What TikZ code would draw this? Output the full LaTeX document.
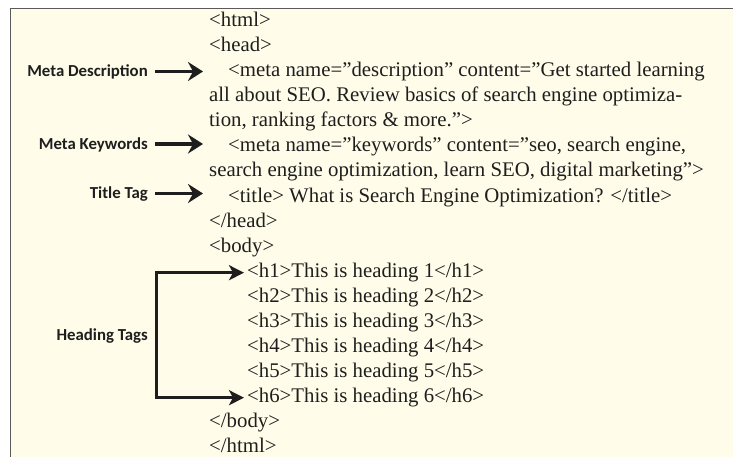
\documentclass[tikz,border=0pt]{standalone}
\usepackage{fontspec}
\setmainfont{Liberation Serif}
\newfontfamily\labelfont{Carlito}
\usetikzlibrary{arrows.meta}

\definecolor{paper}{HTML}{FFFDE9}
\definecolor{frame}{HTML}{5A5A5A}
\definecolor{ink}{HTML}{1E1E1E}

\begin{document}
\begin{tikzpicture}[x=1pt,y=-1pt,
  code/.style={anchor=base west, inner sep=0pt, text=ink,
    font=\fontsize{20.8}{24}\selectfont, text height=10pt, text depth=1.4pt},
  tag/.style={anchor=base east, inner sep=0pt, text=ink,
    font=\labelfont\bfseries\fontsize{16.8}{20}\selectfont, text height=11pt, text depth=0pt},
  ptr/.style={-{Stealth[length=15pt,width=19pt,inset=5pt]}, line width=3.3pt, draw=ink},
  ptrboth/.style={{Stealth[length=15pt,width=15pt,inset=4pt]}-{Stealth[length=15pt,width=15pt,inset=4pt]},
    line width=3.3pt, draw=ink}
]
\useasboundingbox (0,0) rectangle (733,457);

% page panel
\fill[paper] (10,9) rectangle (733,457);
\draw[frame, line width=1pt] (10,457) -- (10,9) -- (733,9);

% HTML source lines
\node[code] (l1)  at (209,27)  {<html>};
\node[code] (l2)  at (209,52)  {<head>};
\node[code] (l3)  at (209,77)  {\hspace{19pt}<meta name=”description” content=”Get started learning};
\node[code] (l4)  at (209,102) {all about SEO. Review basics of search engine optimiza-};
\node[code] (l5)  at (209,127) {tion, ranking factors \& more.”>};
\node[code] (l6)  at (209,152) {\hspace{19pt}<meta name=”keywords” content=”seo, search engine,};
\node[code] (l7)  at (209,177) {search engine optimization, learn SEO, digital marketing”>};
\node[code] (l8)  at (209,202) {\hspace{19pt}<title> What is Search Engine Optimization? </title>};
\node[code] (l9)  at (209,227) {</head>};
\node[code] (l10) at (209,252) {<body>};
\node[code] (h1)  at (247,277) {<h1>This is heading 1</h1>};
\node[code] (h2)  at (247,302) {<h2>This is heading 2</h2>};
\node[code] (h3)  at (247,327) {<h3>This is heading 3</h3>};
\node[code] (h4)  at (247,352) {<h4>This is heading 4</h4>};
\node[code] (h5)  at (247,377) {<h5>This is heading 5</h5>};
\node[code] (h6)  at (247,402) {<h6>This is heading 6</h6>};
\node[code] (l17) at (209,427) {</body>};
\node[code] (l18) at (209,452) {</html>};

% labels
\node[tag] (mdlab) at (148,77)  {Meta Description};
\node[tag] (mklab) at (148,149.5) {Meta Keywords};
\node[tag] (ttlab) at (148,199) {Title Tag};
\node[tag] (htlab) at (148,340.5) {Heading Tags};

% pointers
\draw[ptr, shorten >=6pt] ([xshift=7pt]mdlab.east) -- (mdlab.east -| l4.west);
\draw[ptr, shorten >=6pt] ([xshift=7pt]mklab.east) -- (mklab.east -| l7.west);
\draw[ptr, shorten >=6pt] ([xshift=7pt]ttlab.east) -- (ttlab.east -| l9.west);

\coordinate (bar) at (156.7,335);
\draw[ptrboth, shorten >=3pt, shorten <=3pt]
  (h1.west) -- (h1.west -| bar) -- (h6.west -| bar) -- (h6.west);
\end{tikzpicture}
\end{document}
